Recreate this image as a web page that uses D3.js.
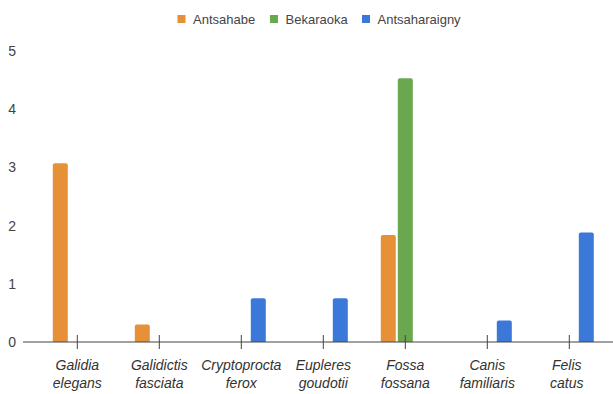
<!DOCTYPE html>
<html>
<head>
<meta charset="utf-8">
<script src="https://cdn.jsdelivr.net/npm/d3@7"></script>
<style>
  html, body { margin: 0; padding: 0; background: #fff; }
  svg { display: block; }
</style>
</head>
<body>
<svg id="chart" width="613" height="394"></svg>
<script>
const categories = [
  ["Galidia", "elegans"],
  ["Galidictis", "fasciata"],
  ["Cryptoprocta", "ferox"],
  ["Eupleres", "goudotii"],
  ["Fossa", "fossana"],
  ["Canis", "familiaris"],
  ["Felis", "catus"]
];
const seriesNames = ["Antsahabe", "Bekaraoka", "Antsaharaigny"];
const seriesColors = ["#e69138", "#6aa84f", "#3c78d8"];
const antsahabe     = [3.07, 0.30, 0,    0,    1.84, 0,    0];
const bekaraoka     = [0,    0,    0,    0,    4.53, 0,    0];
const antsaharaigny = [0,    0,    0.75, 0.75, 0,    0.37, 1.88];
const yTicks = [0, 1, 2, 3, 4, 5];

const seriesValues = [antsahabe, bekaraoka, antsaharaigny];
const catKeys = categories.map(c => c.join(" "));

const svg = d3.select("#chart");
const font = "Arial, 'Liberation Sans', sans-serif";

const x0 = d3.scaleBand().domain(catKeys).range([36.3, 610.3]).padding(0);
const x1 = d3.scaleBand().domain(seriesNames).range([0, 49]).paddingInner(2 / 17).paddingOuter(0);
const y = d3.scaleLinear().domain([0, 5]).range([342, 51]);

// y labels
svg.append("g").selectAll("text").data(yTicks).join("text")
  .attr("x", 16).attr("y", d => y(d)).attr("dy", "0.35em")
  .attr("text-anchor", "end")
  .attr("font-family", font).attr("font-size", 14).attr("fill", "#444")
  .text(d => d);

// bars
const data = [];
catKeys.forEach((k, i) => {
  seriesNames.forEach((s, j) => {
    data.push({ cat: k, series: s, value: seriesValues[j][i], color: seriesColors[j] });
  });
});
const r = 2;
svg.append("g").selectAll("path").data(data.filter(d => d.value > 0)).join("path")
  .attr("fill", d => d.color)
  .attr("d", d => {
    const xl = x0(d.cat) + x0.bandwidth() / 2 - 24.5 + x1(d.series);
    const w = x1.bandwidth();
    const top = y(d.value), bot = y(0);
    return `M${xl},${bot}V${top + r}Q${xl},${top} ${xl + r},${top}H${xl + w - r}Q${xl + w},${top} ${xl + w},${top + r}V${bot}Z`;
  });

// x axis
svg.append("line").attr("x1", 23).attr("x2", 613).attr("y1", y(0)).attr("y2", y(0))
  .attr("stroke", "#444").attr("stroke-width", 1.2);
svg.append("g").selectAll("line").data(catKeys).join("line")
  .attr("x1", d => x0(d) + x0.bandwidth() / 2).attr("x2", d => x0(d) + x0.bandwidth() / 2)
  .attr("y1", y(0) - 7).attr("y2", y(0) + 7)
  .attr("stroke", "#444").attr("stroke-width", 1);

const lbl = svg.append("g").selectAll("text").data(categories).join("text")
  .attr("text-anchor", "middle")
  .attr("font-family", font).attr("font-size", 14).attr("font-style", "italic").attr("fill", "#333");
lbl.each(function(d, i) {
  const cx = x0(catKeys[i]) + x0.bandwidth() / 2 - (i === categories.length - 1 ? 2.5 : 0);
  const t = d3.select(this);
  t.append("tspan").attr("x", cx).attr("y", 370).text(d[0]);
  t.append("tspan").attr("x", cx).attr("y", 388).text(d[1]);
});

// legend
const legendX = [177.5, 270, 362];
const lg = svg.append("g").selectAll("g").data(seriesNames).join("g")
  .attr("transform", (d, i) => `translate(${legendX[i]},15)`);
lg.append("rect").attr("width", 8).attr("height", 8).attr("fill", (d, i) => seriesColors[i]);
lg.append("text").attr("x", 15.5).attr("y", 4).attr("dy", "0.35em")
  .attr("font-family", font).attr("font-size", 13).attr("fill", "#444")
  .text(d => d);
</script>
</body>
</html>
